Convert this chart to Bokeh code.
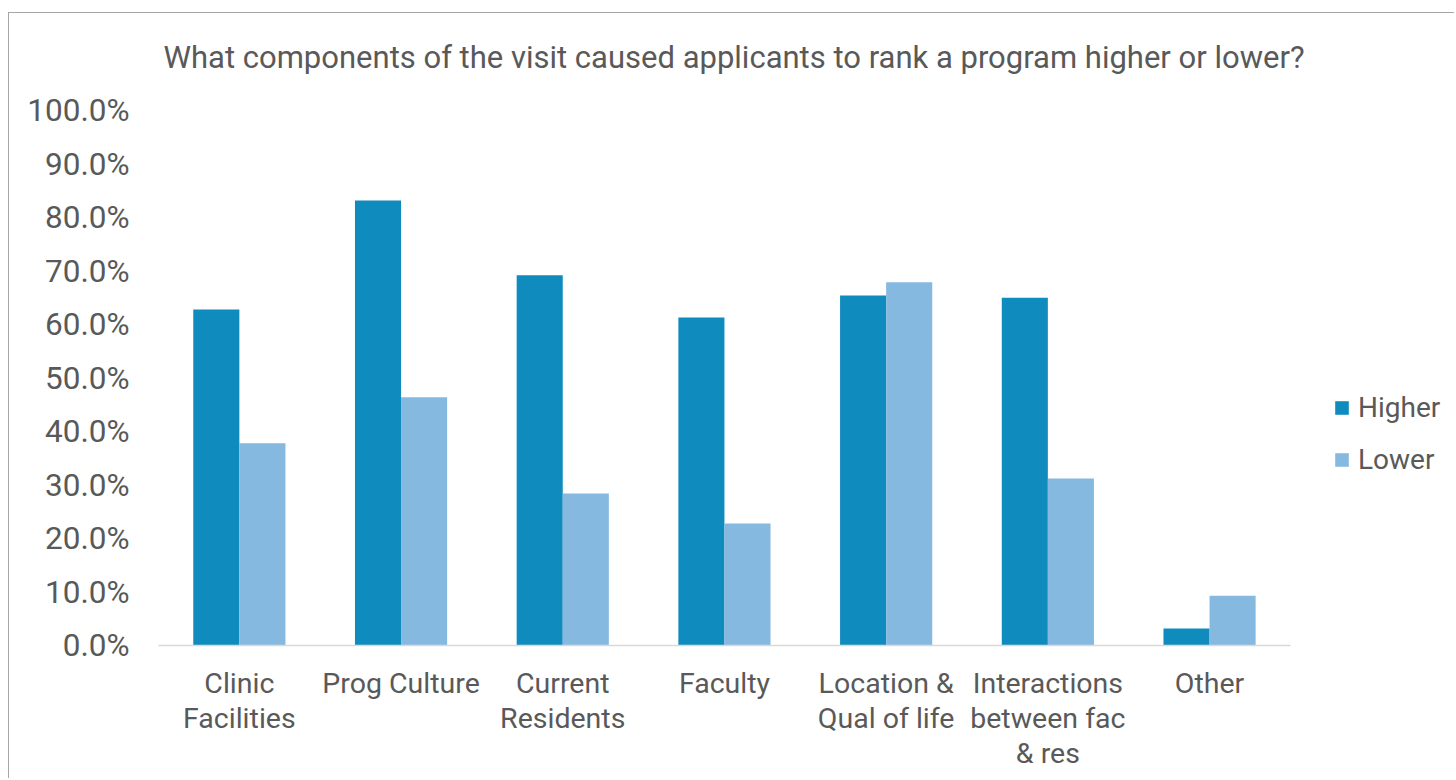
import numpy as np
from bokeh.plotting import figure
from bokeh.models import (ColumnDataSource, NumeralTickFormatter, Legend, LegendItem,
                          FixedTicker, Range1d, Title)
from bokeh.embed import file_html
from bokeh.resources import INLINE

categories = ["Clinic\nFacilities", "Prog Culture", "Current\nResidents", "Faculty",
              "Location &\nQual of life", "Interactions\nbetween fac\n& res", "Other"]
higher = [0.628, 0.832, 0.692, 0.613, 0.654, 0.650, 0.032]
lower = [0.378, 0.464, 0.284, 0.228, 0.679, 0.312, 0.093]
y_ticks = [0.0, 0.1, 0.2, 0.3, 0.4, 0.5, 0.6, 0.7, 0.8, 0.9, 1.0]
title_text = "What components of the visit caused applicants to rank a program higher or lower?"

FONT = "Roboto"
TXT = "#595959"
C_HI = "#0F8BBE"
C_LO = "#86B9E0"

W, H = 1446, 766
B_LEFT, B_RIGHT, B_TOP, B_BOTTOM = 149, 0, 97, 134
CAT_PX = 161.7  # pixel width of one category slot
n = len(categories)
frame_w = W - B_LEFT - B_RIGHT
x_end = frame_w / CAT_PX

centers = np.arange(n) + 0.5
bw = 0.285
src = ColumnDataSource(dict(x_hi=centers - bw / 2, x_lo=centers + bw / 2,
                            higher=higher, lower=lower))

p = figure(x_range=Range1d(0, x_end), y_range=Range1d(0, 1.0), width=W, height=H,
           output_backend="svg", toolbar_location=None,
           min_border_left=B_LEFT, min_border_right=B_RIGHT,
           min_border_top=B_TOP, min_border_bottom=B_BOTTOM)
p.margin = (12, 0, 0, 8)
p.styles = {"border-top": "1px solid #A6A6A6", "border-left": "1px solid #A6A6A6"}

r_hi = p.vbar(x="x_hi", top="higher", width=bw, source=src, fill_color=C_HI, line_color=None)
r_lo = p.vbar(x="x_lo", top="lower", width=bw, source=src, fill_color=C_LO, line_color=None)

# default title left empty; a spacer title (closest to the plot) and the main title above it
p.title.text = ""
p.title.standoff = 0
spacer = Title(text=" ", text_font=FONT, text_font_size="28px", standoff=0)
main_title = Title(text=title_text, align="left", offset=5, text_font=FONT,
                   text_font_size="31px", text_font_style="normal", text_color=TXT, standoff=0)
p.add_layout(spacer, "above")
p.add_layout(main_title, "above")

p.outline_line_color = None
p.xgrid.grid_line_color = None
p.ygrid.grid_line_color = None

p.yaxis.ticker = FixedTicker(ticks=y_ticks)
p.yaxis.formatter = NumeralTickFormatter(format="0.0%")
p.yaxis.axis_line_color = None
p.yaxis.major_tick_line_color = None
p.yaxis.minor_tick_line_color = None
p.yaxis.major_label_standoff = 23
p.yaxis.major_label_text_font = FONT
p.yaxis.major_label_text_font_size = "31.5px"
p.yaxis.major_label_text_color = TXT

p.xaxis.ticker = FixedTicker(ticks=list(centers))
p.xaxis.major_label_overrides = {float(c): lab for c, lab in zip(centers, categories)}
p.xaxis.bounds = (0, n)
p.xaxis.axis_line_color = "#D9D9D9"
p.xaxis.axis_line_width = 1.5
p.xaxis.major_tick_line_color = None
p.xaxis.minor_tick_line_color = None
p.xaxis.major_label_standoff = 15
p.xaxis.major_label_text_font = FONT
p.xaxis.major_label_text_font_size = "28.5px"
p.xaxis.major_label_text_color = TXT
p.xaxis.major_label_text_line_height = 1.07

legend = Legend(items=[LegendItem(label="Higher", renderers=[r_hi]),
                       LegendItem(label="Lower", renderers=[r_lo])],
                location=(1175, 169), orientation="vertical")
legend.glyph_width = 17
legend.glyph_height = 17
legend.label_height = 28
legend.spacing = 19
legend.padding = 0
legend.margin = 0
legend.label_standoff = 8
legend.label_text_font = FONT
legend.label_text_font_size = "28px"
legend.label_text_color = TXT
legend.border_line_color = None
legend.background_fill_alpha = 0
p.add_layout(legend, "center")

open("out.html", "w").write(file_html(p, INLINE))
